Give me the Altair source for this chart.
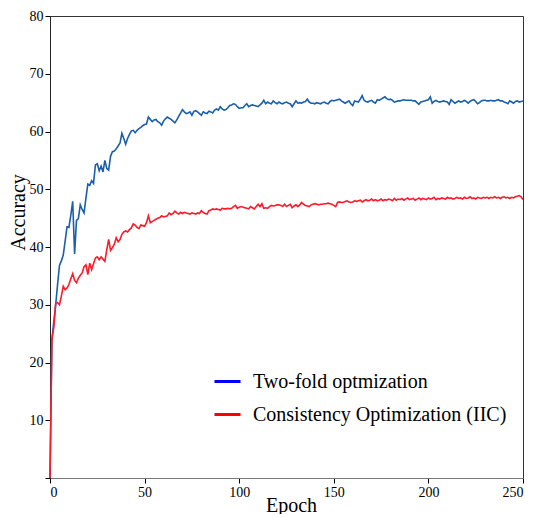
import altair as alt
import pandas as pd

epochs = list(range(251))

two_fold = [
    0, 24, 27, 30, 33.5, 36.8, 37.6, 38.6, 41, 43.5,
    43.4, 45.5, 47.9, 38.8, 44.6, 44.9, 47.3, 46.5, 45.9, 48.5,
    50.9, 50.7, 51.5, 51, 54.2, 54.4, 53.2, 54, 53, 55,
    53.6, 53.3, 55.7, 56.5, 56.6, 57, 57.5, 58, 59.7, 58.8,
    57.8, 58.8, 59.5, 60.1, 60.2, 59.8, 60.2, 60.5, 60.7, 61,
    61.2, 61.3, 62.5, 62.1, 61.7, 62, 62.1, 61.7, 61.5, 61.1,
    61.8, 62.2, 62.5, 62.3, 62.1, 61.8, 61.5, 62, 62.6, 63.2,
    63.8, 63.4, 63.1, 63.2, 63.4, 62.8, 63.5, 63.6, 63.4, 63.1,
    62.8, 63.4, 63.2, 63.1, 63.5, 63.4, 63.2, 63.7, 63.9, 63.7,
    64.3, 63.9, 63.7, 63.8, 64.1, 64.5, 64.6, 64.8, 64.7, 64.3,
    64, 64.1, 64.1, 64.5, 64.8, 64.3, 64.5, 64.6, 64.5, 64.4,
    64.3, 64.6, 64.9, 65.4, 64.8, 65.1, 64.9, 64.8, 65.3, 65,
    64.8, 65.1, 64.9, 64.8, 65, 65.1, 64.9, 64.8, 64.3, 64.8,
    65.3, 64.9, 65, 64.9, 65.1, 65.2, 65.6, 65.1, 64.9, 64.9,
    64.8, 65, 64.9, 64.8, 65, 65.1, 64.9, 64.8, 65.2, 65.4,
    65.3, 65.4, 65.5, 65.6, 65.3, 65.1, 64.9, 65.1, 65.3, 64.8,
    64.5, 65.3, 65.2, 65.1, 65.6, 66.2, 65.4, 65.2, 65.1, 65.3,
    65.4, 65.1, 64.9, 65.5, 65.4, 65.6, 65.8, 66, 65.7, 65.5,
    65.6, 65.4, 65.1, 65.2, 65.3, 65.3, 65.4, 65.5, 65.4, 65.4,
    65.4, 65.4, 65.3, 65.3, 65, 64.7, 65.1, 65.2, 65.3, 65.4,
    65.5, 66, 64.9, 65.2, 65.4, 65.2, 65.1, 65.2, 65.3, 65.2,
    65.1, 64.7, 65.5, 65.2, 64.9, 65.1, 65.3, 65.1, 65.2, 65.4,
    65.2, 64.9, 65.2, 65.4, 65.5, 65.2, 64.8, 65, 65.3, 65.4,
    65.4, 65.3, 65.3, 65.4, 65.3, 65.3, 65.4, 65.5, 65.3, 65.3,
    65.1, 65, 64.8, 65.3, 65.1, 64.9, 65.2, 65.3, 65.1, 65.2,
    65.3,
]

iic = [
    0, 24, 26, 30.2, 30.4, 30, 31.5, 33.2, 32.6, 32.9,
    33.5, 34.5, 35.4, 34.2, 33.8, 34.6, 35.1, 35.5, 36.6, 36.9,
    35.2, 37.2, 36.1, 37.1, 38.1, 38.3, 37.8, 38.3, 37.9, 37.5,
    39.5, 41.3, 39.4, 39.9, 40.5, 41.6, 40.9, 41.3, 42.2, 42.6,
    42.8, 42.6, 43, 43.3, 44, 43.8, 43.4, 43.2, 43.8, 43.7,
    43.6, 44.2, 45.4, 44.2, 44.4, 44.6, 44.8, 45, 45.1, 45.4,
    45.2, 45.3, 45.4, 45.9, 45.6, 45.8, 46.2, 45.9, 45.7, 46,
    45.8, 46, 45.9, 45.8, 45.7, 45.9, 45.8, 45.7, 45.9, 45.8,
    46.3, 46, 45.8, 45.7, 46.3, 46.4, 46.6, 46.5, 46.6, 46.5,
    46.4, 46.7, 46.6, 46.6, 46.7, 46.6, 46.7, 47, 47.2, 46.7,
    46.9, 47, 46.9, 46.8, 46.7, 46.6, 47, 46.8, 46.6, 47,
    47.4, 47, 47.5, 46.7, 46.8, 46.7, 47, 47.2, 47.1, 47.2,
    47.3, 47.3, 47.2, 47, 47.4, 47, 47.2, 47.4, 46.8, 47.1,
    47.3, 47, 47.3, 47.7, 47.4, 47.2, 47.1, 47, 47.3, 47.4,
    47.5, 47.4, 47.3, 47.4, 47.4, 47.5, 47.5, 47.6, 47.5, 47.4,
    47.2, 47, 47.7, 47.8, 47.7, 47.7, 47.9, 48, 47.8, 47.7,
    47.8, 48, 47.9, 48, 48.1, 47.8, 48, 48.2, 48, 48.1,
    48.3, 48, 48.2, 48, 48.1, 48.3, 48, 48.2, 48.1, 48.3,
    48.2, 48, 48.4, 48.1, 48.3, 48.2, 48.4, 48.1, 48.3, 48.5,
    48.2, 48.3, 48.4, 48.1, 48.3, 48.5, 48.2, 48.4, 48.3, 48.2,
    48.5, 48.3, 48.4, 48.6, 48.2, 48.4, 48.3, 48.5, 48.4, 48.3,
    48.6, 48.4, 48.5, 48.3, 48.4, 48.6, 48.4, 48.5, 48.3, 48.6,
    48.4, 48.5, 48.7, 48.4, 48.5, 48.3, 48.6, 48.5, 48.4, 48.6,
    48.5, 48.6, 48.4, 48.6, 48.5, 48.7, 48.5, 48.6, 48.4, 48.6,
    48.7, 48.5, 48.6, 48.4, 48.6, 48.5, 48.7, 48.8, 48.9, 48.7,
    48.2,
]

series_names = ["Two-fold optmization", "Consistency Optimization (IIC)"]
line_colors = ["#1a5fab", "#ff1a2a"]
legend_colors = ["#0000ff", "#ff0000"]
x_ticks = [0, 50, 100, 150, 200, 250]
y_ticks = [0, 10, 20, 30, 40, 50, 60, 70, 80]

df = pd.concat([
    pd.DataFrame({"epoch": epochs, "acc": two_fold, "series": series_names[0]}),
    pd.DataFrame({"epoch": epochs, "acc": iic, "series": series_names[1]}),
], ignore_index=True)

FONT = "Liberation Serif"

x_enc = alt.X(
    "epoch:Q",
    scale=alt.Scale(domain=[0, 250], nice=False),
    axis=alt.Axis(
        values=x_ticks, title="Epoch", grid=False,
        labelFont=FONT, labelFontSize=14, labelColor="black", labelPadding=2,
        tickSize=5, tickColor="black", domainColor="#777",
        titleFont=FONT, titleFontSize=20, titleFontWeight="normal", titleColor="black",
        titleX=241, titleY=27, titleBaseline="middle", titleAlign="center",
    ),
)
y_enc = alt.Y(
    "acc:Q",
    scale=alt.Scale(domain=[0, 80], nice=False),
    axis=alt.Axis(
        values=y_ticks, title="Accuracy", grid=False,
        labelExpr="datum.value == 0 ? '' : datum.label",
        labelFont=FONT, labelFontSize=14, labelColor="black", labelPadding=2,
        tickSize=5, tickColor="black", domainColor="#222",
        titleFont=FONT, titleFontSize=20, titleFontWeight="normal", titleColor="black",
        titleX=-32, titleY=196, titleAngle=-90, titleBaseline="middle", titleAlign="center",
    ),
)

base = alt.Chart(df)

legend_layer = base.mark_line(opacity=0).encode(
    x=x_enc,
    y=y_enc,
    color=alt.Color(
        "series:N",
        sort=series_names,
        scale=alt.Scale(domain=series_names, range=legend_colors),
        legend=alt.Legend(
            title=None, orient="none", legendX=163, legendY=351,
            symbolType="stroke", symbolSize=676, symbolStrokeWidth=3, symbolOpacity=1,
            labelFont=FONT, labelFontSize=20, labelColor="black", labelOffset=11,
            labelLimit=500, rowPadding=8, padding=0,
        ),
    ),
)

line_layer = base.mark_line(strokeWidth=1.6).encode(
    x=x_enc,
    y=y_enc,
    stroke=alt.Stroke(
        "series:N",
        sort=series_names,
        scale=alt.Scale(domain=series_names, range=line_colors),
        legend=None,
    ),
)

chart = alt.layer(legend_layer, line_layer).properties(
    width=473,
    height=462,
    padding={"left": 42, "top": 8, "right": 3, "bottom": 36},
    autosize=alt.AutoSizeParams(type="none"),
).configure_view(
    stroke="#333", strokeWidth=1
).configure_axis(
    labelFont=FONT, titleFont=FONT
).configure_legend(
    labelFont=FONT
)

chart.save("out.html", embed_options={"renderer": "svg", "actions": False})
